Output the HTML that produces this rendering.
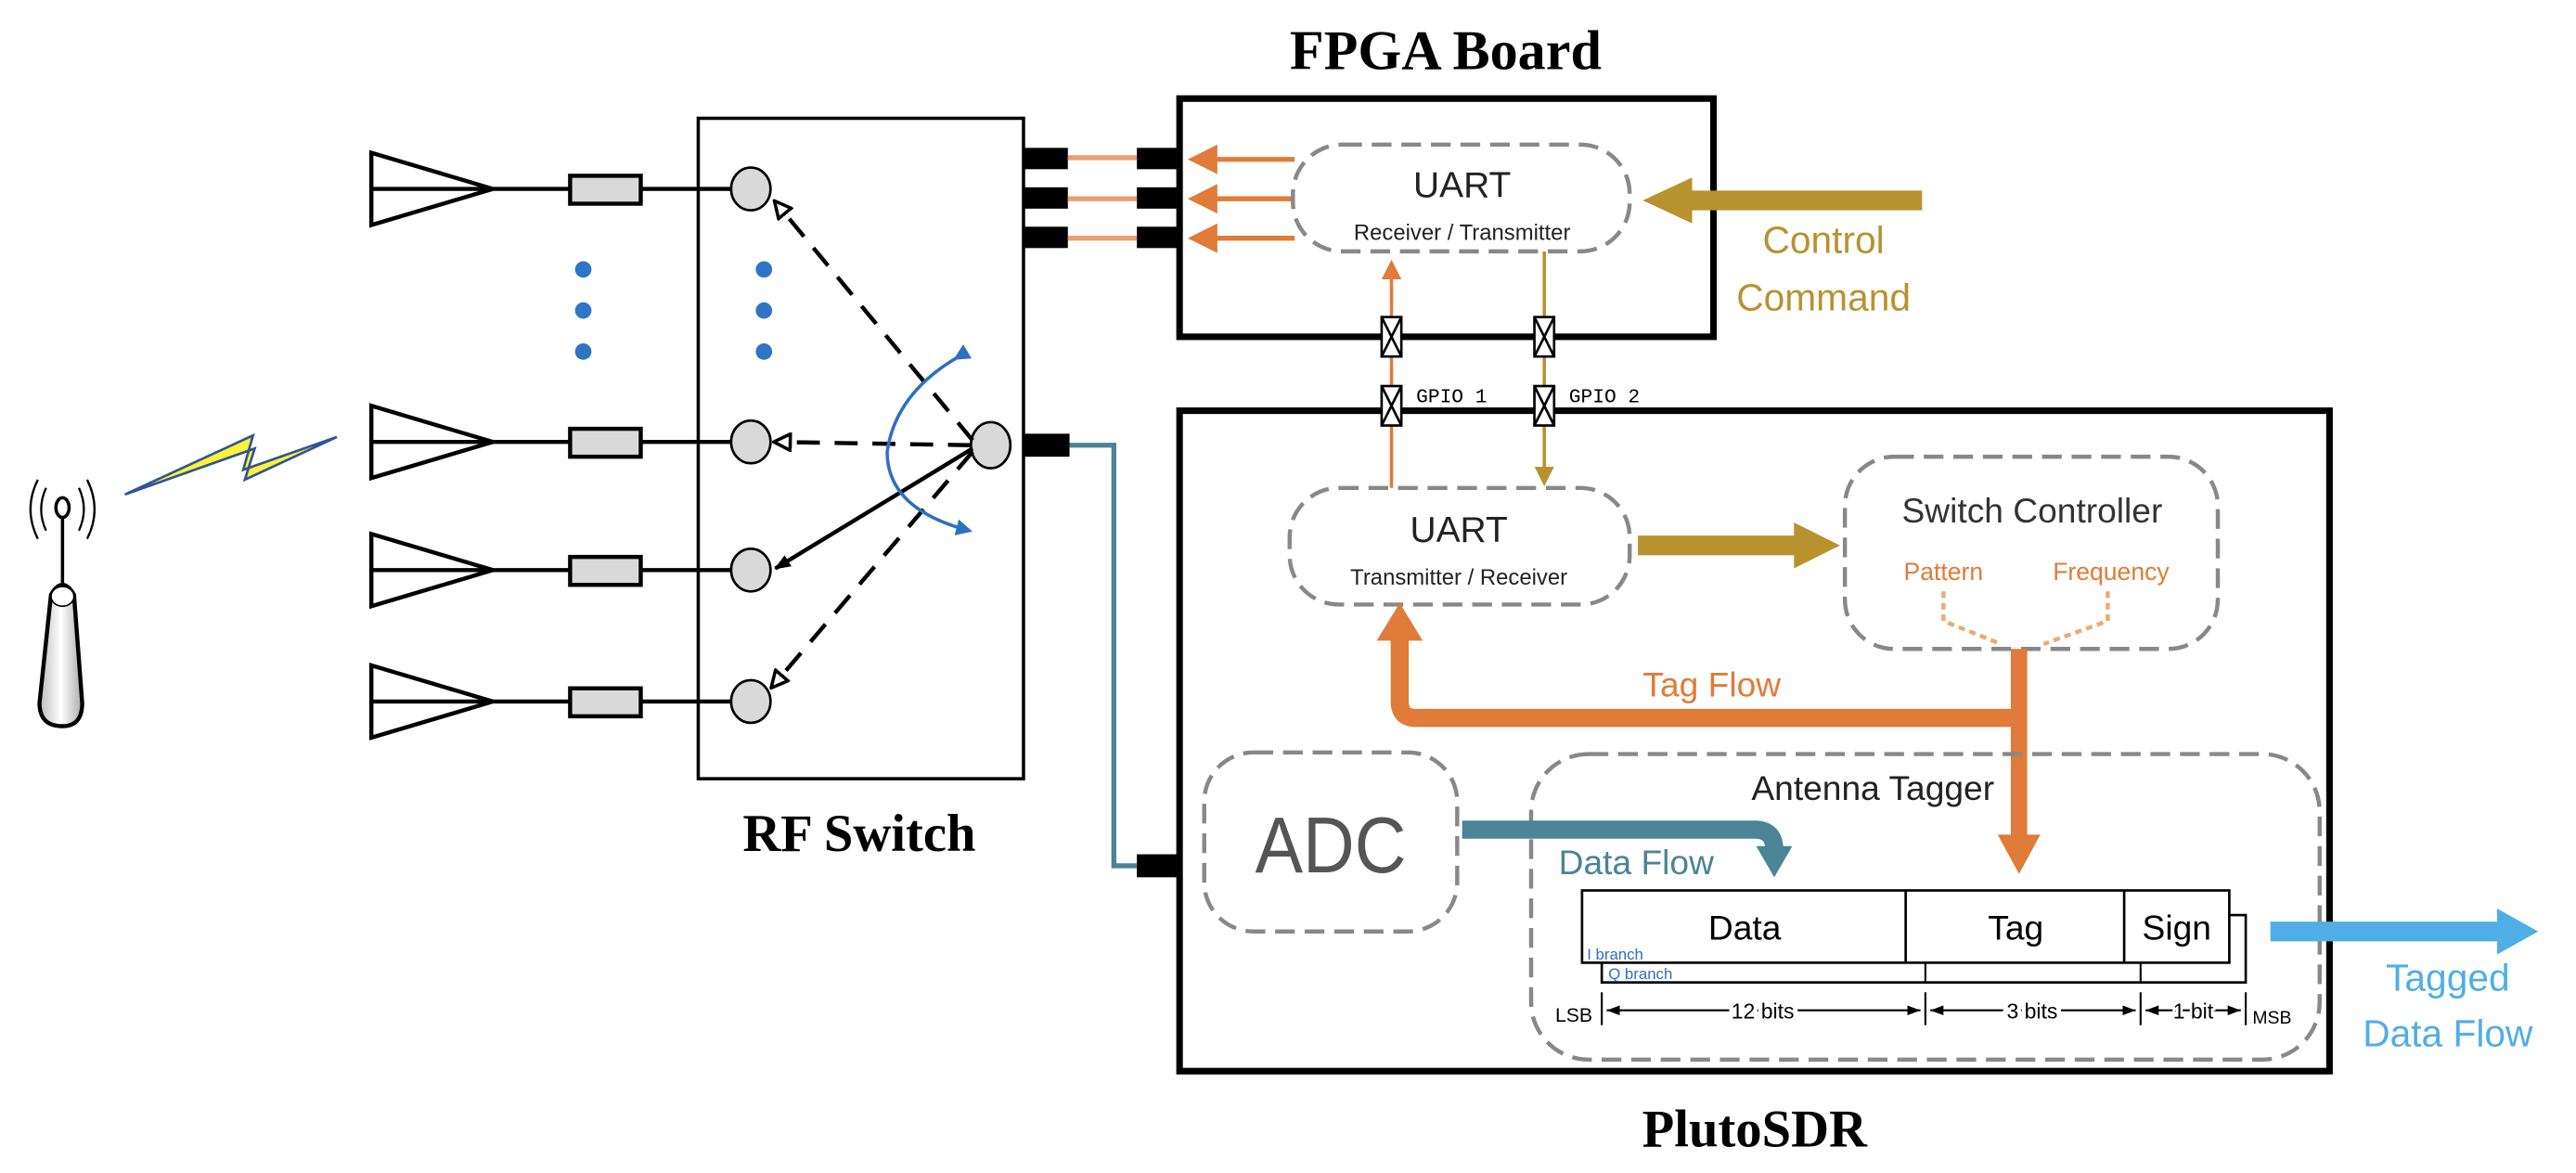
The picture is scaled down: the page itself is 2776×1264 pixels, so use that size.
<!DOCTYPE html>
<html><head><meta charset="utf-8"><style>html,body{margin:0;padding:0;background:#fff}svg{display:block}</style></head>
<body>
<svg width="2776" height="1264" viewBox="0 0 1568 714" xmlns="http://www.w3.org/2000/svg" font-family="Liberation Sans, sans-serif">
<defs>
<marker id="ao" markerWidth="6" markerHeight="6" refX="5" refY="3" orient="auto" markerUnits="strokeWidth"><path d="M0,0 L6,3 L0,6 z" fill="#E07B39"/></marker>
<marker id="ag" markerWidth="6" markerHeight="6" refX="5" refY="3" orient="auto" markerUnits="strokeWidth"><path d="M0,0 L6,3 L0,6 z" fill="#B8922E"/></marker>
<marker id="ab" markerWidth="5" markerHeight="5" refX="4" refY="2.5" orient="auto" markerUnits="strokeWidth"><path d="M0,0 L5,2.5 L0,5 z" fill="#2E6FC0"/></marker>
<marker id="ak" markerWidth="10" markerHeight="8" refX="9" refY="4" orient="auto" markerUnits="userSpaceOnUse"><path d="M0,0 L10,4 L0,8 z" fill="#000"/></marker>
<marker id="aw" markerWidth="12" markerHeight="12" refX="10" refY="6" orient="auto" markerUnits="userSpaceOnUse"><path d="M1,1 L11,6 L1,11 z" fill="#fff" stroke="#000" stroke-width="2"/></marker>
<marker id="ar" markerWidth="8" markerHeight="6" refX="8" refY="3" orient="auto" markerUnits="userSpaceOnUse"><path d="M0,0 L8,3 L0,6 z" fill="#000"/></marker>
</defs>

<text x="880" y="42" font-family="Liberation Serif, serif" font-weight="bold" font-size="34" text-anchor="middle">FPGA Board</text>
<text x="523" y="518" font-family="Liberation Serif, serif" font-weight="bold" font-size="32" text-anchor="middle">RF Switch</text>
<text x="1068" y="698" font-family="Liberation Serif, serif" font-weight="bold" font-size="32" text-anchor="middle">PlutoSDR</text>

<rect x="425" y="72" width="198" height="402" fill="none" stroke="#000" stroke-width="2"/>
<rect x="718" y="60" width="325" height="145" fill="none" stroke="#000" stroke-width="4"/>
<rect x="718" y="250" width="700" height="402" fill="none" stroke="#000" stroke-width="4"/>

<!-- Base station -->
<g stroke="#000" fill="none" stroke-width="1.3">
<path d="M28,297 Q22,310 28,323"/><path d="M23,292 Q14,310 23,328"/>
<path d="M48,297 Q54,310 48,323"/><path d="M53,292 Q62,310 53,328"/>
</g>
<line x1="38" y1="310" x2="38" y2="358" stroke="#000" stroke-width="2"/>
<ellipse cx="38" cy="309" rx="4" ry="6" fill="#fff" stroke="#000" stroke-width="2"/>
<defs><linearGradient id="gg" x1="0" x2="1"><stop offset="0" stop-color="#bbb"/><stop offset="0.5" stop-color="#fff"/><stop offset="1" stop-color="#aaa"/></linearGradient></defs>
<path d="M31,362 Q38,350 45,362 L50,428 Q50,442 38,442 Q24,442 24,428 Z" fill="url(#gg)" stroke="#000" stroke-width="2.5"/>
<ellipse cx="38" cy="363" rx="7" ry="6" fill="#fff" stroke="#000" stroke-width="1"/>
<!-- lightning -->
<path d="M76,301 L154,265 L148,286 L205,266 L149,292 L155,273 Z" fill="#FFF23A" stroke="#2F5597" stroke-width="1.5" stroke-linejoin="miter"/>

<!-- Antenna rows -->
<g stroke="#000" stroke-width="2.5" fill="none">
<g id="row"><path d="M226,93 L300,115 L226,137 Z M226,115 L347,115 M390,115 L445,115"/><rect x="347" y="107" width="43" height="17" fill="#d9d9d9"/><ellipse cx="457" cy="115" rx="12" ry="13" fill="#d9d9d9" stroke-width="1.5"/></g>
<use href="#row" transform="translate(0,154)"/>
<use href="#row" transform="translate(0,232)"/>
<use href="#row" transform="translate(0,312)"/>
</g>
<g fill="#2E75C6">
<circle cx="355" cy="164" r="5"/><circle cx="355" cy="189" r="5"/><circle cx="355" cy="214" r="5"/>
<circle cx="465" cy="164" r="5"/><circle cx="465" cy="189" r="5"/><circle cx="465" cy="214" r="5"/>
</g>
<ellipse cx="603" cy="271" rx="12" ry="14" fill="#d9d9d9" stroke="#000" stroke-width="1.5"/>
<g stroke="#000" stroke-width="2.5" fill="none">
<line x1="592" y1="268" x2="472" y2="123" stroke-dasharray="14,9" marker-end="url(#aw)"/>
<line x1="591" y1="271" x2="472" y2="269" stroke-dasharray="14,9" marker-end="url(#aw)"/>
<line x1="592" y1="275" x2="470" y2="418" stroke-dasharray="14,9" marker-end="url(#aw)"/>
<line x1="592" y1="273" x2="472" y2="346" marker-end="url(#ak)"/>
</g>
<path d="M582,218 Q545,240 540,275 Q540,310 590,323" fill="none" stroke="#2E6FC0" stroke-width="2" marker-start="url(#ab)" marker-end="url(#ab)"/>

<!-- Connectors -->
<g fill="#000">
<rect x="623" y="90" width="27" height="13"/><rect x="623" y="114" width="27" height="13"/><rect x="623" y="138" width="27" height="13"/>
<rect x="692" y="90" width="26" height="13"/><rect x="692" y="114" width="26" height="13"/><rect x="692" y="138" width="26" height="13"/>
<rect x="623" y="264" width="28" height="14"/><rect x="692" y="520" width="26" height="14"/>
</g>
<g stroke="#E8A070" stroke-width="3"><line x1="650" y1="96" x2="692" y2="96"/><line x1="650" y1="121" x2="692" y2="121"/><line x1="650" y1="145" x2="692" y2="145"/></g>
<polyline points="651,271 678,271 678,527 692,527" fill="none" stroke="#4A8496" stroke-width="3"/>
<g stroke="#E07B39" stroke-width="3"><line x1="788" y1="97" x2="726" y2="97" marker-end="url(#ao)"/><line x1="788" y1="121" x2="726" y2="121" marker-end="url(#ao)"/><line x1="788" y1="145" x2="726" y2="145" marker-end="url(#ao)"/></g>

<rect x="787" y="88" width="205" height="65" rx="30" fill="#fff" stroke="#888" stroke-width="2.5" stroke-dasharray="12,6"/>
<text x="890" y="120" font-size="22" text-anchor="middle" fill="#222">UART</text>
<text x="890" y="146" font-size="13.5" text-anchor="middle" fill="#222">Receiver  / Transmitter</text>
<path d="M1170,116 L1030,116 L1030,108 L1000,122 L1030,136 L1030,128 L1170,128 Z" fill="#B8922E"/>
<text x="1110" y="154" font-size="23" text-anchor="middle" fill="#B8922E">Control</text>
<text x="1110" y="189" font-size="23" text-anchor="middle" fill="#B8922E">Command</text>

<!-- GPIO -->
<line x1="847" y1="298" x2="847" y2="160" stroke="#E07B39" stroke-width="2" marker-end="url(#ao)"/>
<line x1="940" y1="153" x2="940" y2="294" stroke="#B8922E" stroke-width="2" marker-end="url(#ag)"/>
<g fill="#fff" stroke="#000" stroke-width="1.5">
<g id="gp"><rect x="841" y="193" width="12" height="24"/><path d="M841,193 L853,217 M853,193 L841,217"/></g>
<use href="#gp" transform="translate(93,0)"/><use href="#gp" transform="translate(0,42)"/><use href="#gp" transform="translate(93,42)"/>
</g>
<text x="862" y="245" font-family="Liberation Mono, monospace" font-size="12">GPIO 1</text>
<text x="955" y="245" font-family="Liberation Mono, monospace" font-size="12">GPIO 2</text>

<rect x="785" y="297" width="207" height="71" rx="30" fill="#fff" stroke="#888" stroke-width="2.5" stroke-dasharray="12,6"/>
<text x="888" y="330" font-size="22" text-anchor="middle" fill="#222">UART</text>
<text x="888" y="356" font-size="13.5" text-anchor="middle" fill="#222">Transmitter / Receiver</text>
<path d="M997,326 L1092,326 L1092,318 L1120,332 L1092,346 L1092,338 L997,338 Z" fill="#B8922E"/>

<rect x="1123" y="278" width="227" height="117" rx="30" fill="#fff" stroke="#888" stroke-width="2.5" stroke-dasharray="12,6"/>
<text x="1237" y="318" font-size="21" text-anchor="middle" fill="#333">Switch Controller</text>
<text x="1183" y="353" font-size="15" text-anchor="middle" fill="#E07B39">Pattern</text>
<text x="1285" y="353" font-size="15" text-anchor="middle" fill="#E07B39">Frequency</text>
<polyline points="1183,360 1183,378 1218,392" fill="none" stroke="#F0A870" stroke-width="2.5" stroke-dasharray="4,3"/>
<polyline points="1283,360 1283,378 1244,392" fill="none" stroke="#F0A870" stroke-width="2.5" stroke-dasharray="4,3"/>

<path d="M1229,395 L1229,510" stroke="#E07B39" stroke-width="10" fill="none"/>
<path d="M1216,508 L1242,508 L1229,532 Z" fill="#E07B39"/>
<path d="M1229,437 L862,437 Q852,437 852,427 L852,388" stroke="#E07B39" stroke-width="11" fill="none"/>
<path d="M838,390 L866,390 L852,367 Z" fill="#E07B39"/>
<text x="1042" y="424" font-size="21" text-anchor="middle" fill="#E07B39">Tag Flow</text>

<rect x="733" y="458" width="154" height="109" rx="30" fill="#fff" stroke="#888" stroke-width="2.5" stroke-dasharray="12,6"/>
<text x="810" y="531" font-size="48" text-anchor="middle" fill="#555" textLength="92" lengthAdjust="spacingAndGlyphs">ADC</text>

<rect x="932" y="459" width="480" height="186" rx="35" fill="none" stroke="#888" stroke-width="2.5" stroke-dasharray="12,6"/>
<text x="1140" y="487" font-size="21" text-anchor="middle" fill="#222">Antenna Tagger</text>
<path d="M890,505 L1068,505 Q1080,505 1080,517 L1080,517" stroke="#4A8496" stroke-width="11" fill="none"/>
<path d="M1069,515 L1091,515 L1080,534 Z" fill="#4A8496"/>
<text x="996" y="532" font-size="21" text-anchor="middle" fill="#4A8496">Data Flow</text>

<rect x="975" y="557" width="392" height="41" fill="#fff" stroke="#000" stroke-width="1.5"/>
<line x1="1172" y1="586" x2="1172" y2="598" stroke="#000" stroke-width="1.2"/>
<line x1="1303" y1="586" x2="1303" y2="598" stroke="#000" stroke-width="1.2"/>
<rect x="963" y="542" width="394" height="44" fill="#fff" stroke="#000" stroke-width="1.5"/>
<line x1="1160" y1="542" x2="1160" y2="586" stroke="#000" stroke-width="1.5"/>
<line x1="1293" y1="542" x2="1293" y2="586" stroke="#000" stroke-width="1.5"/>
<text x="1062" y="572" font-size="21" text-anchor="middle">Data</text>
<text x="1227" y="572" font-size="21" text-anchor="middle">Tag</text>
<text x="1325" y="572" font-size="21" text-anchor="middle">Sign</text>
<text x="966" y="584" font-size="9.5" fill="#2E6FC0">I branch</text>
<text x="979" y="596" font-size="9.5" fill="#2E6FC0">Q branch</text>
<g stroke="#000" stroke-width="1.2">
<line x1="975" y1="604" x2="975" y2="624"/><line x1="1172" y1="604" x2="1172" y2="624"/><line x1="1303" y1="604" x2="1303" y2="624"/><line x1="1367" y1="604" x2="1367" y2="624"/>
<line x1="1073" y1="615" x2="978" y2="615" marker-end="url(#ar)"/><line x1="1073" y1="615" x2="1169" y2="615" marker-end="url(#ar)"/>
<line x1="1237" y1="615" x2="1175" y2="615" marker-end="url(#ar)"/><line x1="1237" y1="615" x2="1300" y2="615" marker-end="url(#ar)"/>
<line x1="1335" y1="615" x2="1306" y2="615" marker-end="url(#ar)"/><line x1="1335" y1="615" x2="1364" y2="615" marker-end="url(#ar)"/>
</g>
<g font-size="13" text-anchor="middle" stroke="#fff" stroke-width="5" paint-order="stroke">
<text x="1073" y="620">12 bits</text>
<text x="1237" y="620">3 bits</text>
<text x="1335" y="620" stroke-width="3">1 bit</text>
</g>
<text x="958" y="622" font-size="12" text-anchor="middle">LSB</text>
<text x="1383" y="623" font-size="11" text-anchor="middle">MSB</text>

<path d="M1382,561 L1520,561 L1520,553 L1545,567 L1520,581 L1520,573 L1382,573 Z" fill="#4FAEE6"/>
<text x="1490" y="603" font-size="23" text-anchor="middle" fill="#4FAEE6">Tagged</text>
<text x="1490" y="637" font-size="23" text-anchor="middle" fill="#4FAEE6">Data Flow</text>
</svg>
</body></html>
